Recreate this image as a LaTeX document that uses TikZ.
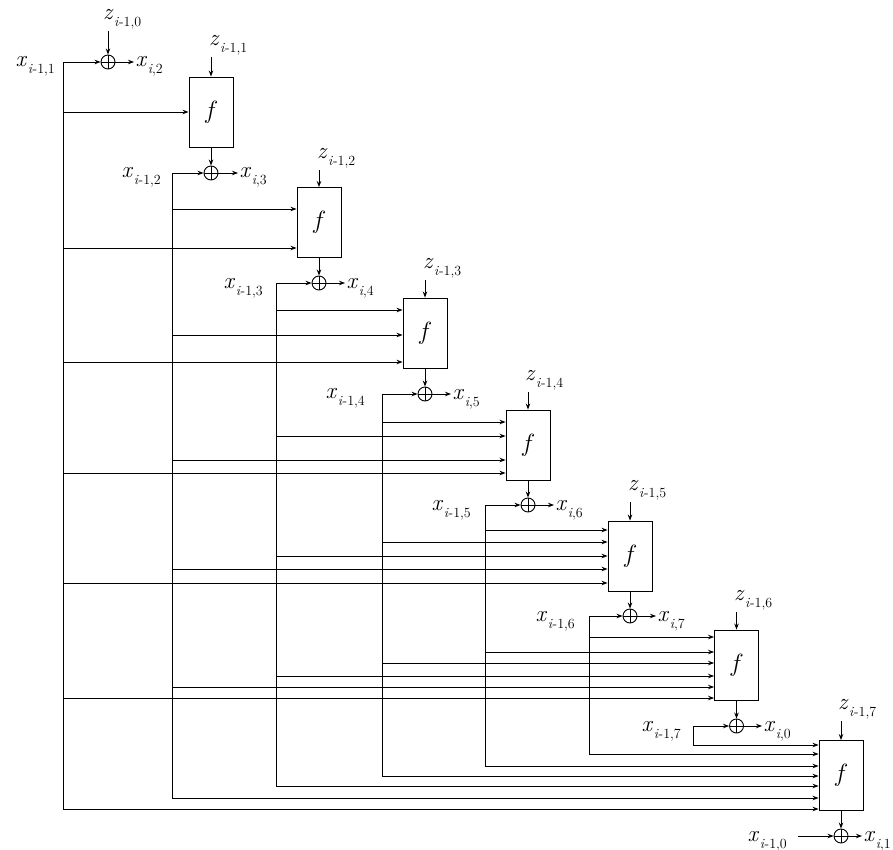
\documentclass[tikz,border=0pt]{standalone}
\usetikzlibrary{arrows.meta}
\newcommand\lbl[2]{\textit{#1}\kern0.5pt\raisebox{-7pt}{\fontsize{14}{16}\selectfont #2}}
\begin{document}
\begin{tikzpicture}[x=1pt,y=-1pt,
  wire/.style={line width=0.9pt},
  arr/.style={wire,-{Stealth[length=6pt,width=4.5pt]}},
  fbox/.style={draw,line width=0.9pt,minimum width=44pt,minimum height=70pt,inner sep=0pt,font=\fontsize{24}{28}\selectfont},
  xor/.style={draw,circle,line width=0.9pt,minimum size=14pt,inner sep=0pt,
    path picture={\draw[line width=0.8pt] (path picture bounding box.north)--(path picture bounding box.south)
      (path picture bounding box.west)--(path picture bounding box.east);}},
  outlab/.style={font=\fontsize{23}{28}\selectfont,inner sep=1.5pt,anchor=base west},
  inlab/.style={font=\fontsize{23}{28}\selectfont,inner sep=0pt,anchor=base east},
  zlab/.style={font=\fontsize{23}{28}\selectfont,inner xsep=0pt,inner ysep=1.5pt,anchor=south west}]
\useasboundingbox (0,0) rectangle (893,850);
% f boxes
\node[fbox] (f1) at (211,112) {$f$};
\node[fbox] (f2) at (319,222.5) {$f$};
\node[fbox] (f3) at (425,333) {$f$};
\node[fbox] (f4) at (528,445) {$f$};
\node[fbox] (f5) at (630,556) {$f$};
\node[fbox] (f6) at (736.5,665) {$f$};
\node[fbox] (f7) at (841,775.5) {$f$};
% xors
\node[xor] (X1) at (108,62) {};
\node[xor] (X2) at (211,173) {};
\node[xor] (X3) at (319,283) {};
\node[xor] (X4) at (425,394) {};
\node[xor] (X5) at (528,505) {};
\node[xor] (X6) at (630,616) {};
\node[xor] (X7) at (736.5,726) {};
\node[xor] (X0) at (841,836) {};
% bus tops
\coordinate (B1) at (63,62);
\coordinate (B2) at (172,173);
\coordinate (B3) at (276,283);
\coordinate (B4) at (382,394);
\coordinate (B5) at (485,505);
\coordinate (B6) at (589,616);
\coordinate (B7) at (693,726);
\coordinate (B0) at (798,836);
% input labels
\node[inlab] (L1) at (55,67) {\lbl{x}{\textit{i}-1,1}};
\node[inlab] (L2) at (161,178) {\lbl{x}{\textit{i}-1,2}};
\node[inlab] (L3) at (263,288) {\lbl{x}{\textit{i}-1,3}};
\node[inlab] (L4) at (365,398) {\lbl{x}{\textit{i}-1,4}};
\node[inlab] (L5) at (471,510) {\lbl{x}{\textit{i}-1,5}};
\node[inlab] (L6) at (575,621) {\lbl{x}{\textit{i}-1,6}};
\node[inlab] (L7) at (681,731) {\lbl{x}{\textit{i}-1,7}};
\node[inlab] (L0) at (787,841) {\lbl{x}{\textit{i}-1,0}};
% output labels
\node[outlab] (O1) at (134,67) {\lbl{x}{\textit{i},2}};
\node[outlab] (O2) at (238,178) {\lbl{x}{\textit{i},3}};
\node[outlab] (O3) at (345,288) {\lbl{x}{\textit{i},4}};
\node[outlab] (O4) at (451,399) {\lbl{x}{\textit{i},5}};
\node[outlab] (O5) at (554,510) {\lbl{x}{\textit{i},6}};
\node[outlab] (O6) at (656,621) {\lbl{x}{\textit{i},7}};
\node[outlab] (O7) at (762,731) {\lbl{x}{\textit{i},0}};
\node[outlab] (O0) at (862,841) {\lbl{x}{\textit{i},1}};
% z labels
\node[zlab] (Z0) at (103,31) {\lbl{z}{\textit{i}-1,0}};
\node[zlab] (Z1) at (209,57) {\lbl{z}{\textit{i}-1,1}};
\node[zlab] (Z2) at (317,170) {\lbl{z}{\textit{i}-1,2}};
\node[zlab] (Z3) at (423,280) {\lbl{z}{\textit{i}-1,3}};
\node[zlab] (Z4) at (525,392) {\lbl{z}{\textit{i}-1,4}};
\node[zlab] (Z5) at (628,502) {\lbl{z}{\textit{i}-1,5}};
\node[zlab] (Z6) at (734,612) {\lbl{z}{\textit{i}-1,6}};
\node[zlab] (Z7) at (838,721) {\lbl{z}{\textit{i}-1,7}};
% z arrows
\draw[arr] (Z0.south -| X1) -- (X1.north);
\foreach \k in {1,...,7}{\draw[arr] (Z\k.south -| f\k) -- (f\k.north);}
% f to xor
\draw[arr] (f1.south) -- (X2.north);
\draw[arr] (f2.south) -- (X3.north);
\draw[arr] (f3.south) -- (X4.north);
\draw[arr] (f4.south) -- (X5.north);
\draw[arr] (f5.south) -- (X6.north);
\draw[arr] (f6.south) -- (X7.north);
\draw[arr] (f7.south) -- (X0.north);
% xor outputs
\foreach \k in {1,...,7,0}{\draw[arr] (X\k.east) -- (O\k.west |- X\k);}
% bus to xor
\foreach \k in {1,...,7,0}{\draw[arr] (B\k) -- (X\k.west);}
% bus verticals
\foreach \k/\y in {1/809,2/798,3/786,4/776,5/766,6/754,7/745}{\draw[wire] (B\k) -- (B\k |- 0,\y);}
% feeds
\foreach \k/\lst in {1/{1/112},2/{2/209,1/248},3/{3/310,2/335,1/362},4/{4/422,3/436,2/460,1/473},
  5/{5/530,4/542,3/556,2/569,1/583},6/{6/637,5/652,4/663,3/676,2/687,1/698},
  7/{7/745,6/754,5/766,4/776,3/786,2/798,1/809}}{
  \foreach \j/\y in \lst {
    \coordinate (in-\k-\j) at (B\j |- 0,\y);
    \draw[arr] (in-\k-\j) -- (in-\k-\j -| f\k.west);
  }
}
\end{tikzpicture}
\end{document}
